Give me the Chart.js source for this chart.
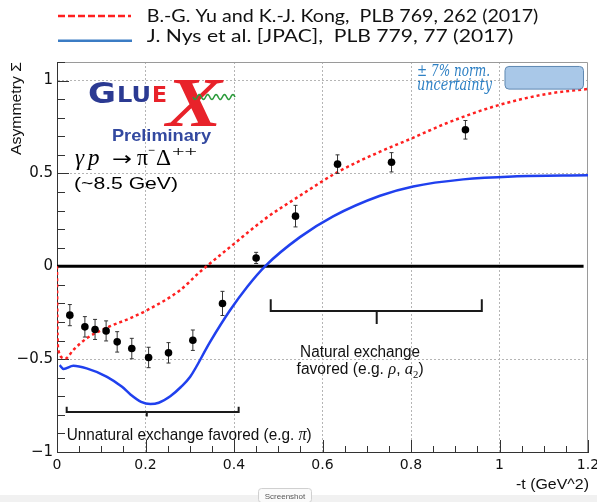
<!DOCTYPE html>
<html>
<head>
<meta charset="utf-8">
<script src="https://cdn.jsdelivr.net/npm/chart.js@4.4.1/dist/chart.umd.min.js"></script>
<style>
  html, body { margin: 0; padding: 0; background: #fff; }
  canvas { display: block; }
</style>
</head>
<body>
<canvas id="chart" width="597" height="502"></canvas>
<script>
// GlueX preliminary points: -t, Sigma, stat. error
const tPoints = [0.029, 0.063, 0.086, 0.111, 0.136, 0.169, 0.207, 0.252, 0.307, 0.374, 0.450, 0.539, 0.634, 0.756, 0.923];
const sigmaPoints = [-0.263, -0.326, -0.34, -0.348, -0.407, -0.443, -0.491, -0.466, -0.398, -0.2, 0.045, 0.27, 0.55, 0.56, 0.735];
const sigmaErrors = [0.057, 0.055, 0.054, 0.054, 0.055, 0.055, 0.055, 0.055, 0.055, 0.065, 0.03, 0.058, 0.05, 0.052, 0.05];

// B.-G. Yu and K.-J. Kong curve
const yuT = [0, 0.0005, 0.0015, 0.004, 0.008, 0.019, 0.037, 0.067, 0.113, 0.165, 0.203, 0.278, 0.323, 0.338, 0.396, 0.474, 0.549, 0.634, 0.73, 0.8, 0.88, 0.994, 1.107, 1.2];
const yuSigma = [0, -0.2, -0.4, -0.46, -0.485, -0.497, -0.45, -0.388, -0.33, -0.28, -0.237, -0.129, -0.03, 0, 0.113, 0.262, 0.38, 0.507, 0.617, 0.687, 0.77, 0.865, 0.928, 0.955];

// JPAC curve
const jpacT = [0.006, 0.015, 0.037, 0.067, 0.113, 0.147, 0.166, 0.19, 0.211, 0.23, 0.256, 0.28, 0.301, 0.346, 0.391, 0.43, 0.47, 0.549, 0.624, 0.73, 0.805, 0.918, 1.03, 1.2];
const jpacSigma = [-0.532, -0.553, -0.536, -0.55, -0.595, -0.649, -0.69, -0.73, -0.742, -0.735, -0.70, -0.65, -0.595, -0.407, -0.237, -0.11, 0, 0.157, 0.269, 0.38, 0.43, 0.468, 0.484, 0.49];

// black line at zero
const zeroT = [0, 1.19];
const zeroSigma = [0, 0];

const xTicks = [0, 0.2, 0.4, 0.6, 0.8, 1, 1.2];
const yTicks = [-1, -0.5, 0, 0.5, 1];
const legendLabels = ["B.-G. Yu and K.-J. Kong,  PLB 769, 262 (2017)", "J. Nys et al. [JPAC],  PLB 779, 77 (2017)"];

const RED = '#ff2020';
const BLUE = '#2040ee';

function pts(xs, ys) { return xs.map((x, i) => ({ x: x, y: ys[i] })); }
function fmt(v) { return v < 0 ? '\u2212' + Math.abs(v) : String(v); }

// text run drawer, squeezed/stretched to a given width
function drawRuns(ctx, runs, x, y, width, align, color) {
  ctx.save();
  let total = 0;
  runs.forEach(r => { ctx.font = r[1]; total += ctx.measureText(r[0]).width; });
  const sx = width ? width / total : 1;
  let x0 = x;
  if (align === 'center') x0 = x - total * sx / 2;
  if (align === 'right') x0 = x - total * sx;
  ctx.translate(x0, y);
  ctx.scale(sx, 1);
  ctx.fillStyle = color || '#000';
  ctx.textAlign = 'left';
  ctx.textBaseline = 'alphabetic';
  let cx = 0;
  runs.forEach(r => {
    ctx.font = r[1];
    ctx.fillText(r[0], cx, r[2] || 0);
    cx += ctx.measureText(r[0]).width;
  });
  ctx.restore();
}

const sans = s => s + "px 'Liberation Sans', Arial, sans-serif";
const iserif = s => "italic " + s + "px 'Liberation Serif', serif";

// brackets, in data units
const brackets = [
  { x1: 0.0219, x2: 0.4105, xm: 0.2029, top: -0.756, bar: -0.785, tip: -0.809 },
  { x1: 0.483, x2: 0.960, xm: 0.7225, top: -0.178, bar: -0.241, tip: -0.311 }
];

const errorBars = {
  id: 'errorBars',
  beforeDatasetDraw(chart, args) {
    if (args.index !== 0) return;
    const { ctx, scales: { x, y } } = chart;
    ctx.save();
    ctx.strokeStyle = '#333';
    ctx.lineWidth = 1;
    tPoints.forEach((t, i) => {
      const px = x.getPixelForValue(t);
      const y1 = y.getPixelForValue(sigmaPoints[i] + sigmaErrors[i]);
      const y2 = y.getPixelForValue(sigmaPoints[i] - sigmaErrors[i]);
      ctx.beginPath();
      ctx.moveTo(px, y1); ctx.lineTo(px, y2);
      ctx.moveTo(px - 2, y1); ctx.lineTo(px + 2, y1);
      ctx.moveTo(px - 2, y2); ctx.lineTo(px + 2, y2);
      ctx.stroke();
    });
    ctx.restore();
  }
};

const frameTicks = {
  id: 'frameTicks',
  beforeDatasetsDraw(chart) {
    const { ctx, chartArea: a, scales: { x, y } } = chart;
    ctx.save();
    // frame top/right
    ctx.strokeStyle = '#9a9a9a';
    ctx.lineWidth = 1;
    ctx.beginPath();
    ctx.moveTo(a.left, a.top + 0.5); ctx.lineTo(a.right - 0.5, a.top + 0.5); ctx.lineTo(a.right - 0.5, a.bottom);
    ctx.stroke();
    // ticks pointing inwards
    ctx.strokeStyle = '#333';
    ctx.beginPath();
    for (let i = 0; i <= 24; i++) {
      const v = i * 0.05;
      const px = Math.round(x.getPixelForValue(v)) + 0.5;
      const len = i % 4 === 0 ? 12 : 6;
      ctx.moveTo(px, a.bottom); ctx.lineTo(px, a.bottom - len);
    }
    for (let i = -10; i <= 11; i++) {
      const v = i * 0.1;
      const py = Math.round(y.getPixelForValue(v)) + 0.5;
      const len = i % 5 === 0 ? 12 : 8;
      ctx.moveTo(a.left, py); ctx.lineTo(a.left + len, py);
    }
    ctx.stroke();
    ctx.restore();
  }
};

const decor = {
  id: 'decor',
  afterDraw(chart) {
    const { ctx, scales: { x, y } } = chart;
    const X = v => x.getPixelForValue(v);
    const Y = v => y.getPixelForValue(v);
    ctx.save();

    // brackets
    ctx.strokeStyle = '#1a1a1a';
    ctx.lineWidth = 2;
    brackets.forEach(b => {
      ctx.beginPath();
      ctx.moveTo(X(b.x1), Y(b.top)); ctx.lineTo(X(b.x1), Y(b.bar));
      ctx.lineTo(X(b.x2), Y(b.bar)); ctx.lineTo(X(b.x2), Y(b.top));
      ctx.moveTo(X(b.xm), Y(b.bar)); ctx.lineTo(X(b.xm), Y(b.tip));
      ctx.stroke();
    });

    // annotations
    drawRuns(ctx, [["Unnatural exchange favored (e.g. ", sans(17)], ["\u03c0", iserif(18)], [")", sans(17)]],
      X(0.0219), Y(-0.935), 245, 'left', '#111');
    drawRuns(ctx, [["Natural exchange", sans(16)]], X(0.685), Y(-0.488), 120, 'center', '#111');
    drawRuns(ctx, [["favored (e.g. ", sans(16)], ["\u03c1", iserif(17)], [", ", sans(16)], ["a", iserif(17)],
      ["2", "11px 'Liberation Serif', serif", 4], [")", sans(16)]], X(0.685), Y(-0.58), 127, 'center', '#111');

    // normalisation uncertainty
    const bx1 = X(1.0124), bx2 = X(1.1898), by1 = Y(1.076), by2 = Y(0.954);
    ctx.beginPath();
    ctx.roundRect(bx1, by1, bx2 - bx1, by2 - by1, 4);
    ctx.fillStyle = '#a9c8e8';
    ctx.fill();
    ctx.strokeStyle = '#5f88b2';
    ctx.lineWidth = 1;
    ctx.stroke();
    drawRuns(ctx, [["\u00b1 7% norm.", "italic 16px 'DejaVu Serif', serif"]], X(0.8136), Y(1.025), 73, 'left', '#2e80c4');
    drawRuns(ctx, [["uncertainty", "italic 16px 'DejaVu Serif', serif"]], X(0.8136), Y(0.949), 75, 'left', '#2e80c4');

    // axis titles
    drawRuns(ctx, [["-t (GeV^2)", sans(15)]], 589, 489, 73, 'right', '#111');
    ctx.save();
    ctx.translate(21, 155);
    ctx.rotate(-Math.PI / 2);
    drawRuns(ctx, [["Asymmetry \u03a3", sans(14)]], 0, 0, 93, 'left', '#111');
    ctx.restore();

    // legend
    ctx.lineWidth = 2.5;
    ctx.strokeStyle = '#ff1f1f';
    ctx.setLineDash([7, 3]);
    ctx.beginPath(); ctx.moveTo(58, 16); ctx.lineTo(131, 16); ctx.stroke();
    ctx.setLineDash([]);
    ctx.strokeStyle = '#3b7cc4';
    ctx.beginPath(); ctx.moveTo(58, 40.7); ctx.lineTo(132, 40.7); ctx.stroke();
    drawRuns(ctx, [[legendLabels[0], "17px Lato, sans-serif"]], 146.7, 21.7, 391.6, 'left', '#111');
    drawRuns(ctx, [[legendLabels[1], "17px Lato, sans-serif"]], 146.7, 42.3, 366.6, 'left', '#111');

    // GlueX logo
    drawRuns(ctx, [["G", "bold 28px 'DejaVu Sans', sans-serif"]], 88, 103, 28, 'left', '#2b3a92');
    drawRuns(ctx, [["LU", "bold 21px 'DejaVu Sans', sans-serif"]], 117, 102, 34, 'left', '#2b3a92');
    drawRuns(ctx, [["E", "bold 21px 'DejaVu Sans', sans-serif"]], 152, 102, 15, 'left', '#e8222a');
    drawRuns(ctx, [["X", "italic bold 70px 'Liberation Serif', serif"]], 166, 126, 56, 'left', '#e8222a');
    ctx.strokeStyle = '#2a9a3a';
    ctx.lineWidth = 1.5;
    ctx.beginPath();
    for (let i = 0; i <= 84; i++) {
      const xx = 193 + i * 0.5;
      const yy = 97 + 2.5 * Math.sin(i * 0.5 / 42 * Math.PI * 2 * 5);
      if (i === 0) ctx.moveTo(xx, yy); else ctx.lineTo(xx, yy);
    }
    ctx.stroke();
    drawRuns(ctx, [["Preliminary", "bold 17px 'Liberation Sans', Arial, sans-serif"]], 112, 141, 99, 'left', '#3349a0');

    // reaction and energy
    drawRuns(ctx, [["\u03b3", iserif(23)]], 75, 165, null, 'left', '#000');
    drawRuns(ctx, [["p", iserif(23)]], 88, 165, null, 'left', '#000');
    drawRuns(ctx, [["\u2192", "19px 'DejaVu Sans', sans-serif"]], 112, 165, 20, 'left', '#000');
    drawRuns(ctx, [["\u03c0", "23px 'Liberation Serif', serif"]], 137, 165, 11, 'left', '#000');
    drawRuns(ctx, [["\u2212", "15px 'Liberation Serif', serif"]], 148, 155, 7, 'left', '#000');
    drawRuns(ctx, [["\u0394", "23px 'Liberation Serif', serif"]], 156, 165, 15, 'left', '#000');
    drawRuns(ctx, [["++", "15px 'Liberation Serif', serif"]], 172, 156, 25, 'left', '#000');
    drawRuns(ctx, [["(~8.5 GeV)", sans(17)]], 74, 189, 104, 'left', '#000');

    // screenshot strip
    ctx.fillStyle = '#f1f1f1';
    ctx.fillRect(0, 495, 597, 7);
    ctx.beginPath();
    ctx.roundRect(258.5, 488.5, 53, 14, 3);
    ctx.fillStyle = '#fafafa';
    ctx.fill();
    ctx.strokeStyle = '#d0d0d0';
    ctx.lineWidth = 1;
    ctx.stroke();
    drawRuns(ctx, [["Screenshot", "8px 'Liberation Sans', Arial, sans-serif"]], 285, 499, null, 'center', '#555');

    ctx.restore();
  }
};

new Chart(document.getElementById('chart'), {
  type: 'scatter',
  data: {
    datasets: [
      { label: 'GlueX', data: pts(tPoints, sigmaPoints), showLine: false, pointRadius: 3.8,
        pointBackgroundColor: '#000', pointBorderColor: '#000', pointBorderWidth: 0 },
      { label: legendLabels[0], data: pts(yuT, yuSigma), showLine: true, borderColor: RED, borderWidth: 2.5,
        borderDash: [3, 3], pointRadius: 0, cubicInterpolationMode: 'monotone' },
      { label: legendLabels[1], data: pts(jpacT, jpacSigma), showLine: true, borderColor: BLUE, borderWidth: 2.5,
        pointRadius: 0, cubicInterpolationMode: 'monotone' },
      { label: 'zero', data: pts(zeroT, zeroSigma), showLine: true, borderColor: '#000', borderWidth: 3, pointRadius: 0 }
    ]
  },
  options: {
    responsive: false,
    animation: false,
    devicePixelRatio: 1,
    layout: { padding: { left: 0, top: 62, right: 9, bottom: 0 } },
    plugins: { legend: { display: false }, tooltip: { enabled: false } },
    scales: {
      x: {
        type: 'linear', min: 0, max: 1.2,
        afterBuildTicks: s => { s.ticks = xTicks.map(v => ({ value: v })); },
        afterFit: s => { s.height = 50; s.paddingLeft = 0; s.paddingRight = 0; },
        ticks: { font: { family: 'DejaVu Sans', size: 14 }, color: '#111', padding: 5, maxRotation: 0, autoSkip: false, callback: fmt },
        grid: { drawTicks: false, lineWidth: 1,
          color: c => (c.tick && c.tick.value > 0.01 && c.tick.value < 1.19) ? '#b5b5b5' : 'rgba(0,0,0,0)' },
        border: { display: true, color: '#333', width: 1, dash: [2, 2] }
      },
      y: {
        type: 'linear', min: -1, max: 1.1,
        afterBuildTicks: s => { s.ticks = yTicks.map(v => ({ value: v })); },
        afterFit: s => { s.width = 57; },
        ticks: { font: { family: 'DejaVu Sans', size: 15 }, color: '#111', padding: 4, autoSkip: false, callback: fmt },
        grid: { drawTicks: false, lineWidth: 1,
          color: c => (c.tick && Math.abs(c.tick.value) > 0.01 && c.tick.value > -0.99) ? '#b5b5b5' : 'rgba(0,0,0,0)' },
        border: { display: true, color: '#333', width: 1, dash: [2, 2] }
      }
    }
  },
  plugins: [errorBars, frameTicks, decor]
});
</script>
</body>
</html>
